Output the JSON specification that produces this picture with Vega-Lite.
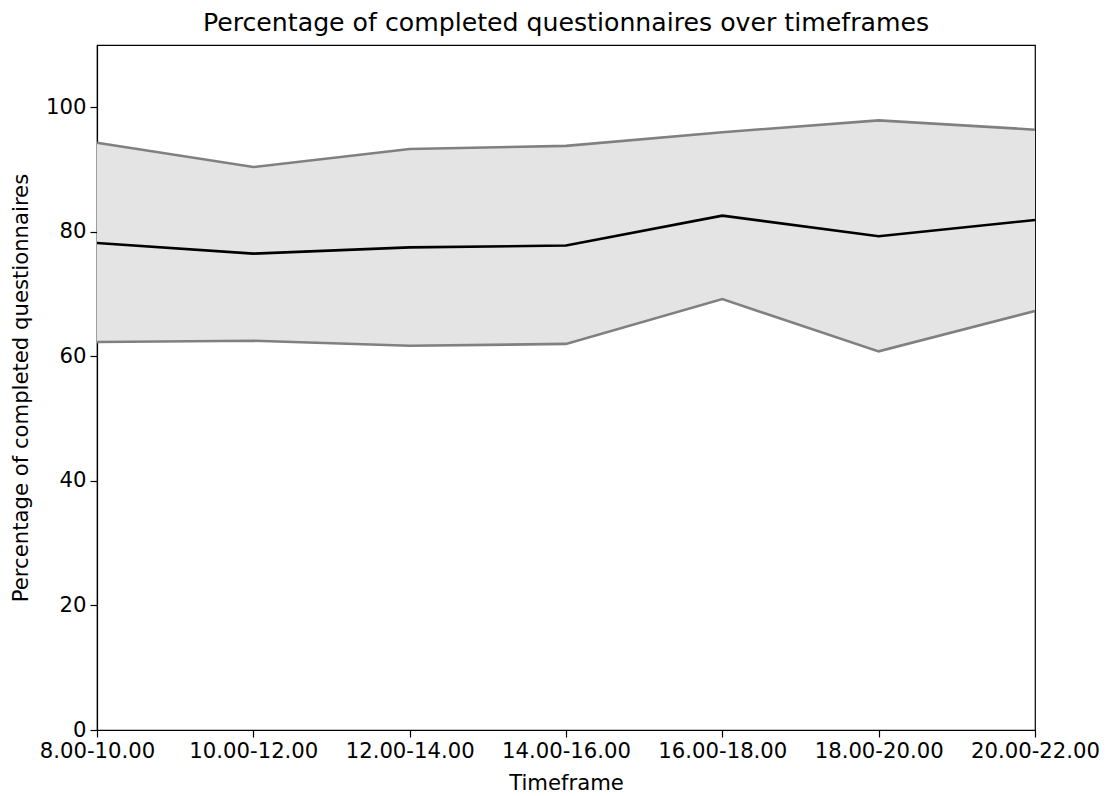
{
  "$schema": "https://vega.github.io/schema/vega-lite/v6.json",
  "autosize": {"type": "none"},
  "padding": {"left": 97, "top": 45, "right": 71, "bottom": 66},
  "width": 938,
  "height": 685,
  "background": "white",
  "title": {
    "text": "Percentage of completed questionnaires over timeframes",
    "font": "DejaVu Sans",
    "fontSize": 25.2,
    "fontWeight": "normal",
    "color": "black",
    "offset": 9
  },
  "config": {
    "view": {"stroke": "black", "strokeWidth": 1.2},
    "axis": {
      "labelFont": "DejaVu Sans",
      "labelFontSize": 21.2,
      "labelColor": "black",
      "titleFont": "DejaVu Sans",
      "titleFontSize": 21.2,
      "titleFontWeight": "normal",
      "titleColor": "black",
      "domainColor": "black",
      "domainWidth": 1.2,
      "tickColor": "black",
      "tickWidth": 1.2,
      "tickSize": 7,
      "grid": false
    }
  },
  "data": {
    "values": [
      {"timeframe": "8.00-10.00", "mean": 78.2, "lower": 62.3, "upper": 94.3},
      {"timeframe": "10.00-12.00", "mean": 76.5, "lower": 62.5, "upper": 90.4},
      {"timeframe": "12.00-14.00", "mean": 77.5, "lower": 61.7, "upper": 93.3},
      {"timeframe": "14.00-16.00", "mean": 77.8, "lower": 62.0, "upper": 93.8},
      {"timeframe": "16.00-18.00", "mean": 82.6, "lower": 69.2, "upper": 96.0},
      {"timeframe": "18.00-20.00", "mean": 79.3, "lower": 60.8, "upper": 97.9},
      {"timeframe": "20.00-22.00", "mean": 81.9, "lower": 67.3, "upper": 96.4}
    ]
  },
  "encoding": {
    "x": {
      "field": "timeframe",
      "type": "ordinal",
      "sort": null,
      "scale": {"type": "point", "padding": 0},
      "axis": {"title": "Timeframe", "labelAngle": 0, "labelPadding": 3, "titlePadding": 11}
    }
  },
  "layer": [
    {
      "mark": {"type": "area", "color": "#e4e4e4", "opacity": 1},
      "encoding": {
        "y": {
          "field": "lower",
          "type": "quantitative",
          "scale": {"domain": [0, 110], "nice": false},
          "axis": {"title": "Percentage of completed questionnaires", "values": [0, 20, 40, 60, 80, 100], "labelPadding": 4, "titlePadding": 14}
        },
        "y2": {"field": "upper"}
      }
    },
    {
      "mark": {"type": "line", "color": "#808080", "strokeWidth": 2.6},
      "encoding": {"y": {"field": "upper", "type": "quantitative"}}
    },
    {
      "mark": {"type": "line", "color": "#808080", "strokeWidth": 2.6},
      "encoding": {"y": {"field": "lower", "type": "quantitative"}}
    },
    {
      "mark": {"type": "line", "color": "black", "strokeWidth": 2.6},
      "encoding": {"y": {"field": "mean", "type": "quantitative"}}
    }
  ]
}
